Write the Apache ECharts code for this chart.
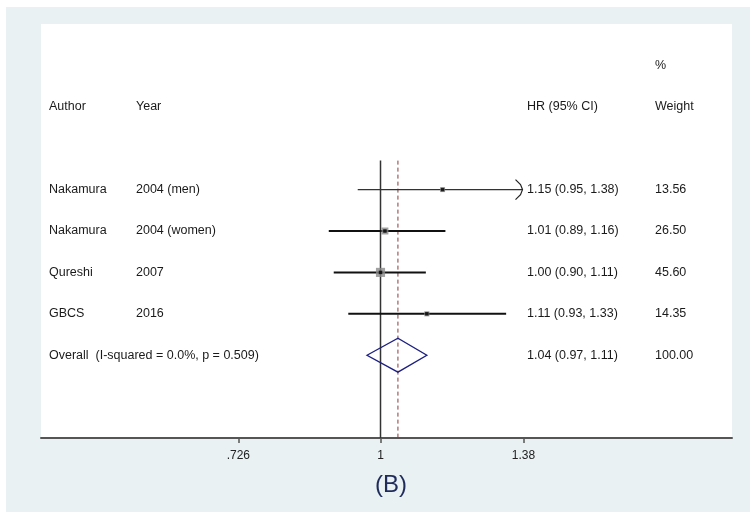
<!DOCTYPE html>
<html><head><meta charset="utf-8">
<script src="https://cdn.jsdelivr.net/npm/echarts@6/dist/echarts.min.js"></script>
<style>
html,body{margin:0;padding:0;background:#fff;}
#wrap{position:relative;width:750px;height:512px;overflow:hidden;}
#bg{position:absolute;left:6px;top:7px;right:0;bottom:0;background:#e9f1f3;}
#c{position:absolute;left:0;top:0;width:750px;height:512px;}
</style></head><body>
<div id="wrap"><div id="bg"></div><div id="c"></div></div>
<script>
// ---- data ----
const authors = ['Nakamura', 'Nakamura', 'Qureshi', 'GBCS'];
const years = ['2004 (men)', '2004 (women)', '2007', '2016'];
const hr = [1.15, 1.01, 1.00, 1.11];
const lo = [0.95, 0.89, 0.90, 0.93];
const hi = [1.38, 1.16, 1.11, 1.33];
const weights = [13.56, 26.50, 45.60, 14.35];
const arrowRight = [true, false, false, false];
const overallLabel = 'Overall  (I-squared = 0.0%, p = 0.509)';
const overallHR = 1.04, overallLo = 0.97, overallHi = 1.11, overallWeight = 100.00;
const tickValues = [0.726, 1, 1.38];
const tickLabels = ['.726', '1', '1.38'];
const headerLabels = ['Author', 'Year', 'HR (95% CI)', 'Weight'];
const weightUnit = '%';

// ---- layout constants ----
const COL = {author: 8, year: 95, hr: 486, weight: 614};
const FONT = '12.5px "Liberation Sans", Arial, sans-serif';
const TXT = '#1a1a1a';

const fmtCI = (h, l, u) => h.toFixed(2) + ' (' + l.toFixed(2) + ', ' + u.toFixed(2) + ')';

const textItems = [];
textItems.push({col: COL.author, row: -2, text: headerLabels[0]});
textItems.push({col: COL.year, row: -2, text: headerLabels[1]});
textItems.push({col: COL.hr, row: -2, text: headerLabels[2]});
textItems.push({col: COL.weight, row: -3, text: weightUnit});
textItems.push({col: COL.weight, row: -2, text: headerLabels[3]});
authors.forEach((a, i) => {
  textItems.push({col: COL.author, row: i, text: a});
  textItems.push({col: COL.year, row: i, text: years[i]});
  textItems.push({col: COL.hr, row: i, text: fmtCI(hr[i], lo[i], hi[i])});
  textItems.push({col: COL.weight, row: i, text: weights[i].toFixed(2)});
});
const oRow = authors.length;
textItems.push({col: COL.author, row: oRow, text: overallLabel});
textItems.push({col: COL.hr, row: oRow, text: fmtCI(overallHR, overallLo, overallHi)});
textItems.push({col: COL.weight, row: oRow, text: overallWeight.toFixed(2)});

const chart = echarts.init(document.getElementById('c'));
chart.setOption({
  animation: false,
  backgroundColor: 'transparent',
  title: {
    text: '(B)', left: 386, top: 468, textAlign: 'center',
    textStyle: {fontSize: 24, fontWeight: 'normal', color: '#1f2b5b', fontFamily: '"Liberation Sans", Arial, sans-serif'}
  },
  grid: {left: 41, right: 18, top: 24, bottom: 74, show: true, backgroundColor: '#fff', borderWidth: 0},
  xAxis: [{
    type: 'log', logBase: 10, min: 0.4655, max: 2.207, position: 'bottom',
    axisLine: {show: true, onZero: false, lineStyle: {color: '#555', width: 2}},
    axisTick: {show: true, customValues: tickValues, length: 5, lineStyle: {color: '#555', width: 1.5}},
    axisLabel: {
      show: true, customValues: tickValues, margin: 12, color: '#222', fontSize: 12,
      fontFamily: '"Liberation Sans", Arial, sans-serif',
      formatter: v => {
        let bi = 0;
        tickValues.forEach((t, i) => { if (Math.abs(t - v) < Math.abs(tickValues[bi] - v)) bi = i; });
        return tickLabels[bi];
      }
    },
    splitLine: {show: false}, minorTick: {show: false}
  }, {
    type: 'value', min: 0, max: 691, show: false
  }],
  yAxis: {type: 'value', inverse: true, min: -4, max: 6, show: false},
  series: [
    {
      type: 'custom', name: 'reflines', xAxisIndex: 0,
      data: [[1, -0.7, 6], [overallHR, -0.7, 6]],
      encode: {x: 0, y: [1, 2]},
      renderItem: (params, api) => {
        const a = api.coord([api.value(0), api.value(1)]);
        const b = api.coord([api.value(0), api.value(2)]);
        const isNull = params.dataIndex === 0;
        return {
          type: 'line', shape: {x1: a[0], y1: a[1], x2: b[0], y2: b[1]},
          style: isNull ? {stroke: '#333', lineWidth: 1.5}
                        : {stroke: '#8b3a3a', lineWidth: 1, lineDash: [4, 3]}
        };
      }
    },
    {
      type: 'custom', name: 'ci', xAxisIndex: 0, z: 3,
      data: hr.map((_, i) => [lo[i], hi[i], i]),
      encode: {x: [0, 1], y: 2},
      renderItem: (params, api) => {
        const i = params.dataIndex;
        const a = api.coord([api.value(0), api.value(2)]);
        const b = api.coord([api.value(1), api.value(2)]);
        const thin = arrowRight[i];
        const style = {stroke: thin ? '#333' : '#111', lineWidth: thin ? 1.1 : 2, fill: null};
        const children = [{type: 'line', shape: {x1: a[0], y1: a[1], x2: b[0] - 1, y2: b[1]}, style: style}];
        if (arrowRight[i]) {
          const x = b[0] - 1, y = b[1];
          children.push({type: 'polyline', shape: {points: [[x - 7, y - 10], [x - 2, y - 5], [x, y], [x - 2, y + 5], [x - 7, y + 10]]},
            style: {stroke: '#222', lineWidth: 1.2, fill: null}});
        }
        return {type: 'group', children: children};
      }
    },
    {
      type: 'scatter', name: 'box', xAxisIndex: 0, z: 4,
      data: hr.map((h, i) => [h, i, weights[i]]),
      symbol: 'rect', symbolSize: v => 1.35 * Math.sqrt(v[2]),
      itemStyle: {color: '#8a8a8a'}
    },
    {
      type: 'scatter', name: 'point', xAxisIndex: 0, z: 5,
      data: hr.map((h, i) => [h, i]),
      symbol: 'rect', symbolSize: 3.5,
      itemStyle: {color: '#000'}
    },
    {
      type: 'custom', name: 'diamond', xAxisIndex: 0, z: 5,
      data: [[overallLo, overallHR, overallHi, oRow]],
      encode: {x: [0, 1, 2], y: 3},
      renderItem: (params, api) => {
        const r = api.value(3), h = 0.41;
        const pts = [
          api.coord([api.value(0), r]), api.coord([api.value(1), r - h]),
          api.coord([api.value(2), r]), api.coord([api.value(1), r + h])
        ];
        return {type: 'polygon', shape: {points: pts}, style: {stroke: '#1c1f80', lineWidth: 1.3, fill: null}};
      }
    },
    {
      type: 'custom', name: 'text', xAxisIndex: 1, z: 6,
      data: textItems.map(t => [t.col, t.row]),
      renderItem: (params, api) => {
        const t = textItems[params.dataIndex];
        const p = api.coord([api.value(0), api.value(1)]);
        return {type: 'text', x: p[0], y: p[1],
          style: {text: t.text, fill: TXT, font: FONT, align: 'left', verticalAlign: 'middle'}};
      }
    }
  ]
});
</script>
</body></html>
